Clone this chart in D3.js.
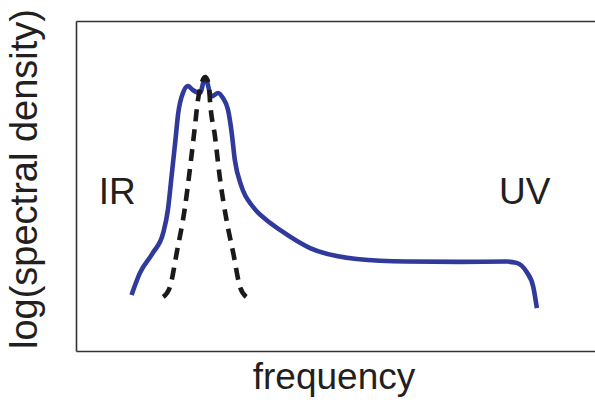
<!DOCTYPE html>
<html>
<head>
<meta charset="utf-8">
<script src="https://cdn.jsdelivr.net/npm/d3@7"></script>
<style>
  body { margin: 0; background: #fff; }
  text { font-family: "Liberation Sans", Arial, sans-serif; fill: #231f20; }
</style>
</head>
<body>
<svg id="chart" width="595" height="404"></svg>
<script>
// schematic spectrum: broad emitted spectrum (blue) vs narrow thermal-like peak (dashed)
// units are arbitrary, x = frequency (0..10), y = log spectral density (0..10)
var freqBlue = [1.07, 1.23, 1.48, 1.68, 1.77, 1.84, 1.91, 1.97, 2.06, 2.16, 2.25, 2.39, 2.49,
                2.61, 2.74, 2.83, 2.93, 3.00, 3.06, 3.19, 3.41, 3.67, 3.93, 4.51, 5.41, 6.37,
                7.40, 8.30, 8.49, 8.68, 8.81, 8.88];
var densBlue = [1.70, 2.36, 2.97, 3.58, 4.27, 5.27, 6.30, 7.21, 7.82, 8.03, 7.91, 7.82, 8.30,
                7.71, 7.82, 7.67, 7.30, 6.61, 5.79, 4.98, 4.37, 3.97, 3.67, 3.12, 2.79, 2.71,
                2.70, 2.71, 2.67, 2.40, 1.95, 1.30];

var freqDash = [1.68, 1.81, 1.94, 2.10, 2.20, 2.29, 2.35, 2.41, 2.49, 2.56, 2.58, 2.68, 2.77,
                2.90, 3.03, 3.16, 3.28];
var densDash = [1.64, 1.94, 2.97, 4.36, 5.58, 6.79, 7.61, 8.06, 8.30, 8.06, 7.61, 6.48, 5.27,
                3.97, 2.97, 1.94, 1.64];

var bandLabels = ["IR", "UV"];
var bandFreq = [0.44, 8.15];
var bandDens = [4.45, 4.45];

var svg = d3.select("#chart");
var W = 595, H = 404;
var m = {top: 21, right: 0, bottom: 53, left: 76};

var x = d3.scaleLinear().domain([0, 10]).range([m.left, W - m.right]);
var y = d3.scaleLinear().domain([0, 10]).range([H - m.bottom, m.top]);

// open frame (no right edge): bottom, left and top domain lines only
function frame(g) {
  g.selectAll(".tick").remove();
  g.select(".domain").attr("stroke", "#333").attr("stroke-width", 1.6);
}
svg.append("g").attr("transform", "translate(0," + y(0) + ")")
  .call(d3.axisBottom(x).ticks(0).tickSizeOuter(0)).call(frame);
svg.append("g").attr("transform", "translate(0," + y(10) + ")")
  .call(d3.axisTop(x).ticks(0).tickSizeOuter(0)).call(frame);
svg.append("g").attr("transform", "translate(" + x(0) + ",0)")
  .call(d3.axisLeft(y).ticks(0).tickSizeOuter(0)).call(frame);

var blue = d3.zip(freqBlue, densBlue);
var dash = d3.zip(freqDash, densDash);

var line = d3.line()
  .x(function(d) { return x(d[0]); })
  .y(function(d) { return y(d[1]); })
  .curve(d3.curveMonotoneX);

svg.append("path").datum(blue)
  .attr("fill", "none")
  .attr("stroke", "#2f3a9b")
  .attr("stroke-width", 4.6)
  .attr("stroke-linejoin", "round")
  .attr("d", line);

svg.append("path").datum(dash)
  .attr("fill", "none")
  .attr("stroke", "#1a1a1a")
  .attr("stroke-width", 4.6)
  .attr("stroke-dasharray", "12,8")
  .attr("d", line);

svg.selectAll(".band").data(bandLabels).enter().append("text")
  .attr("class", "band")
  .attr("x", function(d, i) { return x(bandFreq[i]); })
  .attr("y", function(d, i) { return y(bandDens[i]); })
  .attr("font-size", 37)
  .text(function(d) { return d; });

svg.append("text")
  .attr("x", 334)
  .attr("y", 389)
  .attr("text-anchor", "middle")
  .attr("font-size", 37)
  .text("frequency");

svg.append("text")
  .attr("transform", "translate(37," + 179 + ") rotate(-90)")
  .attr("text-anchor", "middle")
  .attr("font-size", 38)
  .text("log(spectral density)");
</script>
</body>
</html>
